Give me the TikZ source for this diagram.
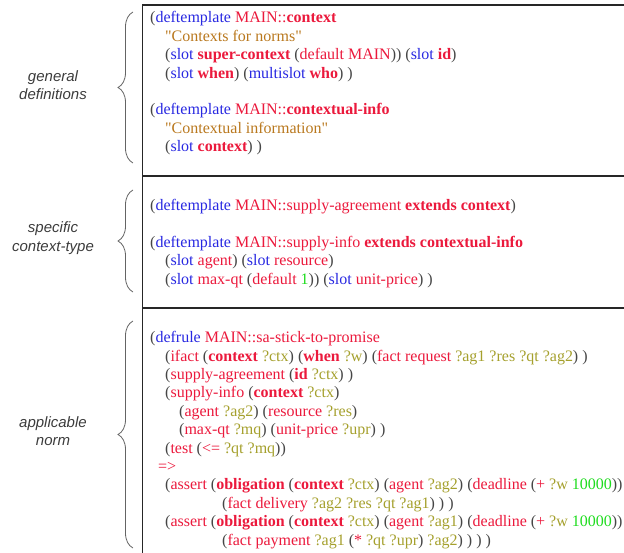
\documentclass[tikz,border=0pt]{standalone}
\usepackage{fontspec}
\setmainfont{Liberation Serif}
\newfontfamily\labelfont{Liberation Sans}
\usetikzlibrary{decorations.pathreplacing}

\definecolor{kwblue}{RGB}{40,40,225}
\definecolor{nmred}{RGB}{235,25,60}
\definecolor{strbrown}{RGB}{185,120,30}
\definecolor{varolive}{RGB}{165,160,45}
\definecolor{numgreen}{RGB}{30,220,30}
\definecolor{parengray}{RGB}{70,70,70}
\definecolor{bracegray}{RGB}{100,100,100}
\definecolor{labelgray}{RGB}{60,60,60}

% straight double quote, taken directly from the font's glyph table
\newcommand\sqd{\XeTeXglyph\XeTeXcharglyph"22\relax}

% syntax colouring helpers
\newcommand\cKw[1]{\textcolor{kwblue}{#1}}
\newcommand\cNm[1]{\textcolor{nmred}{#1}}
\newcommand\cBd[1]{\textcolor{nmred}{\bfseries #1}}
\newcommand\cVr[1]{\textcolor{varolive}{#1}}
\newcommand\cSt[1]{\textcolor{strbrown}{\sqd #1\sqd}}
\newcommand\cNb[1]{\textcolor{numgreen}{#1}}

\begin{document}
\begin{tikzpicture}[x=1pt,y=-1pt,
  code/.style={anchor=base west, inner sep=0pt, text=parengray,
    font=\fontsize{16}{18}\selectfont},
  sidelabel/.style={anchor=base, inner sep=0pt, text=labelgray,
    font=\labelfont\itshape\fontsize{15}{18}\selectfont},
  rule/.style={line width=1.2pt, draw=black!85},
  bracket/.style={draw=bracegray, line width=0.8pt, decorate,
    decoration={brace, amplitude=15pt}}]

\useasboundingbox (0,0) rectangle (624,553);

% frame of the listing
\coordinate (topL) at (142.5,5);
\coordinate (topR) at (624,5);
\coordinate (botL) at (142.5,553);
\coordinate (s1L) at (142.5,176);
\coordinate (s1R) at (624,176);
\coordinate (s2L) at (142.5,308);
\coordinate (s2R) at (624,308);
\draw[rule] (topR) -- (topL) -- (botL);
\draw[rule] (s1L) -- (s1R);
\draw[rule] (s2L) -- (s2R);

% general definitions
\node[code] (g1) at (150,23) {(\cKw{deftemplate} \cNm{MAIN::}\cBd{context}};
\node[code] (g2) at (165,41.4) {\cSt{Contexts for norms}};
\node[code] (g3) at (165,59.8) {(\cKw{slot} \cBd{super-context} (\cNm{default MAIN})) (\cKw{slot} \cBd{id})};
\node[code] (g4) at (165,78.2) {(\cKw{slot} \cBd{when}) (\cKw{multislot} \cBd{who}) )};
\node[code] (g5) at (150,115) {(\cKw{deftemplate} \cNm{MAIN::}\cBd{contextual-info}};
\node[code] (g6) at (165,133.4) {\cSt{Contextual information}};
\node[code] (g7) at (165,151.8) {(\cKw{slot} \cBd{context}) )};

% specific context-type
\node[code] (c1) at (150,210.7) {(\cKw{deftemplate} \cNm{MAIN::supply-agreement} \cBd{extends context})};
\node[code] (c2) at (150,247.5) {(\cKw{deftemplate} \cNm{MAIN::supply-info} \cBd{extends contextual-info}};
\node[code] (c3) at (165,265.9) {(\cKw{slot} \cNm{agent}) (\cKw{slot} \cNm{resource})};
\node[code] (c4) at (165,284.3) {(\cKw{slot} \cNm{max-qt} (\cNm{default} \cNb{1})) (\cKw{slot} \cNm{unit-price}) )};

% applicable norm
\node[code] (r1) at (150,342.7) {(\cKw{defrule} \cNm{MAIN::sa-stick-to-promise}};
\node[code] (r2) at (165,361.1) {(\cNm{ifact} (\cBd{context} \cVr{?ctx}) (\cBd{when} \cVr{?w}) (\cNm{fact request} \cVr{?ag1 ?res ?qt ?ag2}) )};
\node[code] (r3) at (165,379.5) {(\cNm{supply-agreement} (\cBd{id} \cVr{?ctx}) )};
\node[code] (r4) at (165,397.9) {(\cNm{supply-info} (\cBd{context} \cVr{?ctx})};
\node[code] (r5) at (179,416.3) {(\cNm{agent} \cVr{?ag2}) (\cNm{resource} \cVr{?res})};
\node[code] (r6) at (179,434.7) {(\cNm{max-qt} \cVr{?mq}) (\cNm{unit-price} \cVr{?upr}) )};
\node[code] (r7) at (165,453.1) {(\cNm{test} (\cNm{<=} \cVr{?qt ?mq}))};
\node[code] (r8) at (158,471.5) {\cNm{=>}};
\node[code] (r9) at (165,489.9) {(\cNm{assert} (\cBd{obligation} (\cBd{context} \cVr{?ctx}) (\cNm{agent} \cVr{?ag2}) (\cNm{deadline} (\cNm{+} \cVr{?w} \cNb{10000}))};
\node[code] (r10) at (222,508.3) {(\cNm{fact delivery} \cVr{?ag2 ?res ?qt ?ag1}) ) )};
\node[code] (r11) at (165,526.7) {(\cNm{assert} (\cBd{obligation} (\cBd{context} \cVr{?ctx}) (\cNm{agent} \cVr{?ag1}) (\cNm{deadline} (\cNm{+} \cVr{?w} \cNb{10000}))};
\node[code] (r12) at (222,545.1) {(\cNm{fact payment} \cVr{?ag1} (\cNm{*} \cVr{?qt ?upr}) \cVr{?ag2}) ) ) )};

% braces grouping the sections
\coordinate (b1a) at (133,163);
\coordinate (b1b) at (133,12);
\coordinate (b2a) at (133,292);
\coordinate (b2b) at (133,190);
\coordinate (b3a) at (133,548);
\coordinate (b3b) at (133,321);
\draw[bracket] (b1a) -- (b1b);
\draw[bracket] (b2a) -- (b2b);
\draw[bracket] (b3a) -- (b3b);

% section labels
\node[sidelabel] (l1a) at (53,81.5) {general};
\node[sidelabel] (l1b) at (53,99.3) {definitions};
\node[sidelabel] (l2a) at (53,233) {specific};
\node[sidelabel] (l2b) at (53,251.3) {context-type};
\node[sidelabel] (l3a) at (53,427) {applicable};
\node[sidelabel] (l3b) at (53,445) {norm};
\end{tikzpicture}
\end{document}
